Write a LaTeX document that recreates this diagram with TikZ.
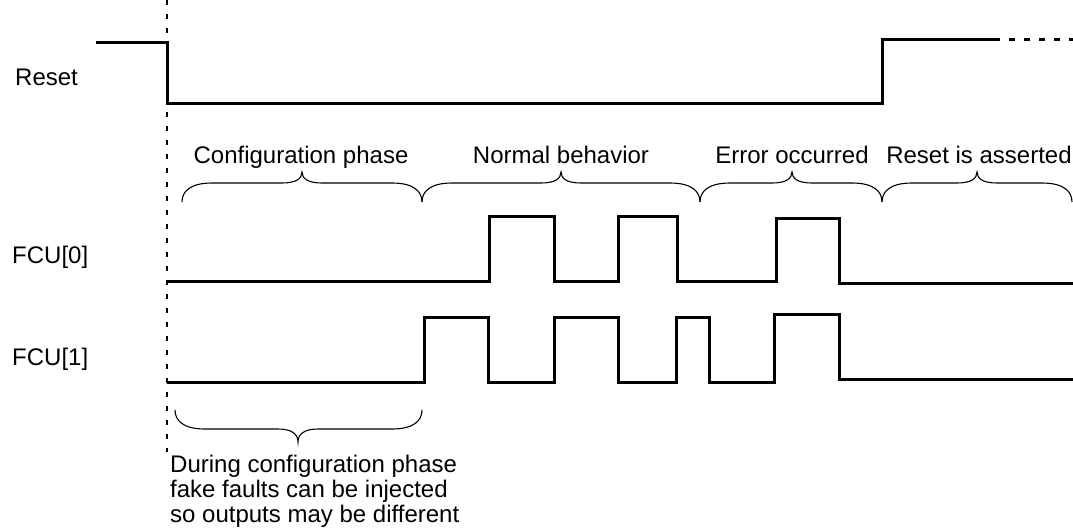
\documentclass[tikz,border=0pt]{standalone}
\usepackage{fontspec}
\setmainfont{Liberation Sans}
\tikzset{
  sig/.style={line width=3pt, line join=miter, line cap=butt},
  br/.style={line width=1.1pt},
  lbl/.style={inner sep=0pt, font=\fontsize{24pt}{25pt}\selectfont},
}
\newcommand\mybrace[6]{%
  \draw[br] (#1,#4) .. controls (#1,{#4+0.55*(#5-#4)}) and ({#1+8},#5) .. ({#1+30},#5)
    -- ({#2-20},#5) .. controls ({#2-6},#5) and (#2,{#5+0.4*(#6-#5)}) .. (#2,#6)
    .. controls (#2,{#5+0.4*(#6-#5)}) and ({#2+6},#5) .. ({#2+20},#5)
    -- ({#3-30},#5) .. controls ({#3-8},#5) and (#3,{#4+0.55*(#5-#4)}) .. (#3,#4);}
\begin{document}
\begin{tikzpicture}[x=1pt,y=-1pt]
\useasboundingbox[fill=white] (0,0) rectangle (1073,531);
% dashed reference line
\coordinate (vtop) at (167,0);
\coordinate (vbot) at (167,452);
\draw[line width=2pt, dash pattern=on 5pt off 9pt] (vtop) -- (vbot);
% labels on the left
\node[lbl, anchor=base west] (lreset) at (15,85) {Reset};
\node[lbl, anchor=base west] (lfcu0) at (12,263) {FCU[0]};
\node[lbl, anchor=base west] (lfcu1) at (12,365) {FCU[1]};
% Reset signal
\draw[sig] (96,42) -- (167,42) -- (167,103) -- (882,103) -- (882,39) -- (1000,39);
\draw[sig, dash pattern=on 6pt off 9pt] (1009,39) -- (1073,39);
% FCU[0]
\draw[sig] (167,281) -- (489,281) -- (489,216) -- (554,216) -- (554,281)
  -- (618,281) -- (618,216) -- (677,216) -- (677,281)
  -- (776,281) -- (776,218) -- (839,218) -- (839,283) -- (1073,283);
% FCU[1]
\draw[sig] (167,382) -- (424,382) -- (424,317) -- (488,317) -- (488,382)
  -- (554,382) -- (554,317) -- (618,317) -- (618,382)
  -- (676,382) -- (676,317) -- (709,317) -- (709,382)
  -- (774,382) -- (774,314) -- (839,314) -- (839,379) -- (1073,379);
% phase braces
\mybrace{182}{302}{422}{202}{183}{172}
\mybrace{422}{561}{700}{202}{183}{172}
\mybrace{700}{792}{882}{202}{183}{172}
\mybrace{882}{977}{1072}{202}{183}{172}
\node[lbl, anchor=base] (pconf) at (301,163) {Configuration phase};
\node[lbl, anchor=base] (pnorm) at (561,163) {Normal behavior};
\node[lbl, anchor=base] (perr) at (792,163) {Error occurred};
\node[lbl, anchor=base] (pres) at (979,163) {Reset is asserted};
% bottom brace and note
\mybrace{175}{298}{422}{410}{429}{442}
\node[lbl, anchor=base west] (note1) at (170,472) {During configuration phase};
\node[lbl, anchor=base west] (note2) at (170,497) {fake faults can be injected};
\node[lbl, anchor=base west] (note3) at (170,522) {so outputs may be different};
\end{tikzpicture}
\end{document}
